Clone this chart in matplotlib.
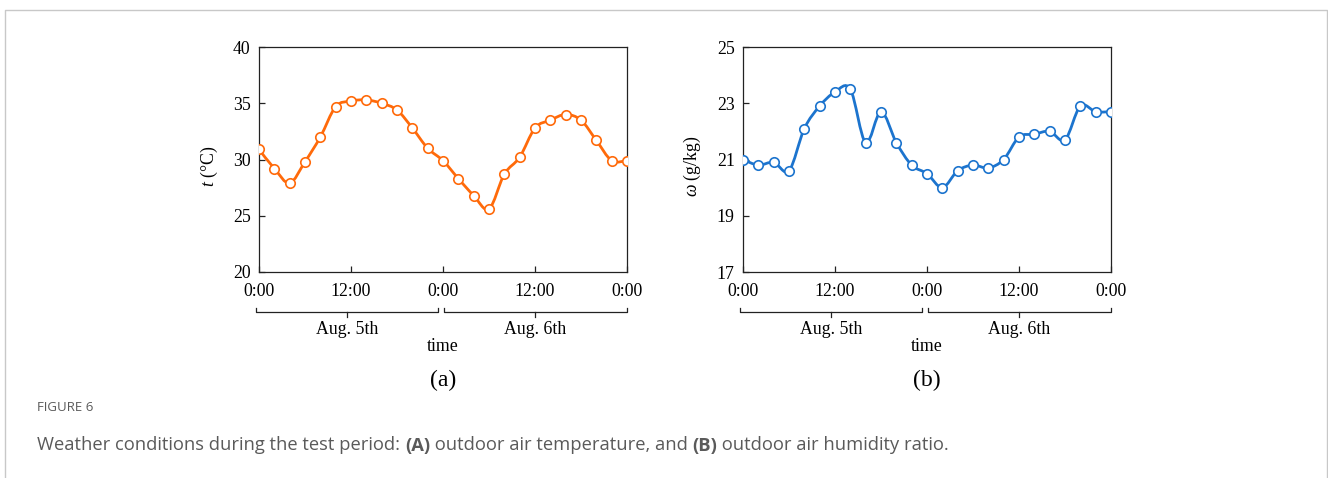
import numpy as np
import matplotlib
matplotlib.use("Agg")
import matplotlib.pyplot as plt
from matplotlib.path import Path
from matplotlib.patches import PathPatch
from matplotlib.lines import Line2D
import matplotlib.transforms as mtransforms

# ---------------- data ----------------
hours = list(range(0, 49, 2))  # every 2 h over Aug. 5th - Aug. 6th
temperature = [30.9, 29.2, 27.9, 29.8, 32.0, 34.7, 35.2, 35.3, 35.0, 34.4, 32.8, 31.0,
               29.9, 28.3, 26.8, 25.6, 28.7, 30.2, 32.8, 33.5, 34.0, 33.5, 31.7, 29.9, 29.9]
humidity = [21.0, 20.8, 20.9, 20.6, 22.1, 22.9, 23.4, 23.5, 21.6, 22.7, 21.6, 20.8,
            20.5, 20.0, 20.6, 20.8, 20.7, 21.0, 21.8, 21.9, 22.0, 21.7, 22.9, 22.7, 22.7]
xtick_pos = [0, 12, 24, 36, 48]
xtick_labels = ["0:00", "12:00", "0:00", "12:00", "0:00"]
day_labels = ["Aug. 5th", "Aug. 6th"]
temp_ticks = [20, 25, 30, 35, 40]
hum_ticks = [17, 19, 21, 23, 25]

ORANGE = "#FF6A0A"
BLUE = "#1C74CE"
FS = 12.8

plt.rcParams["font.family"] = ["Liberation Serif", "DejaVu Serif"]
plt.rcParams["mathtext.fontset"] = "custom"
plt.rcParams["mathtext.rm"] = "Liberation Serif"
plt.rcParams["mathtext.it"] = "Liberation Serif:italic"

W, H = 1328, 478
fig = plt.figure(figsize=(W / 100, H / 100), dpi=100)


def smooth_path(x, y):
    """Catmull-Rom style smoothed line as cubic Bezier segments (like Excel smoothing)."""
    x = np.asarray(x, float)
    y = np.asarray(y, float)
    n = len(x)
    verts = [(x[0], y[0])]
    codes = [Path.MOVETO]
    for i in range(n - 1):
        i0 = max(i - 1, 0)
        i3 = min(i + 2, n - 1)
        c1 = (x[i] + (x[i + 1] - x[i0]) / 6, y[i] + (y[i + 1] - y[i0]) / 6)
        c2 = (x[i + 1] - (x[i3] - x[i]) / 6, y[i + 1] - (y[i3] - y[i]) / 6)
        verts += [c1, c2, (x[i + 1], y[i + 1])]
        codes += [Path.CURVE4] * 3
    return Path(verts, codes)


def make_panel(left_px, values, color, yticks, ylabel, label_x, panel_label):
    ax = fig.add_axes([left_px / W, 1 - 272 / H, 368 / W, 225 / H])
    patch = PathPatch(smooth_path(hours, values), fill=False, edgecolor=color,
                      lw=2.0, transform=ax.transData, zorder=2)
    ax.add_patch(patch)
    ax.plot(hours, values, linestyle="none", marker="o", markersize=6.8,
            markerfacecolor="white", markeredgecolor=color, markeredgewidth=1.2, zorder=3)
    ax.set_xlim(0, 48)
    ax.set_ylim(yticks[0], yticks[-1])
    ax.set_xticks(xtick_pos)
    ax.set_xticklabels(xtick_labels)
    ax.set_yticks(yticks)
    ax.tick_params(direction="in", length=4, width=0.9, labelsize=FS, color="#222222")
    ax.tick_params(axis="x", pad=8)
    ax.tick_params(axis="y", pad=6)
    for s in ax.spines.values():
        s.set_linewidth(0.9)
        s.set_color("#222222")
    ax.set_ylabel(ylabel, fontsize=FS)
    ax.yaxis.set_label_coords(label_x, 0.47)

    # brackets below the axis
    tr = mtransforms.blended_transform_factory(ax.transData, fig.transFigure)
    yb = 1 - 311.5 / H
    yu = 1 - 307.5 / H
    yd = 1 - 316.5 / H
    for (a, b, c) in [(-0.4, 23.3, 11.5), (24.1, 48.0, 36.0)]:
        fig.add_artist(Line2D([a, a, b, b], [yu, yb, yb, yu], transform=tr,
                              color="#222222", lw=0.9))
        fig.add_artist(Line2D([c, c], [yb, yd], transform=tr, color="#222222", lw=0.9))
    for c, lab in zip([11.5, 36.0], day_labels):
        fig.text(c, 1 - 330 / H, lab, transform=tr, ha="center", va="center", fontsize=FS)
    fig.text(24, 1 - 346.5 / H, "time", transform=tr, ha="center", va="center", fontsize=FS)
    fig.text(24, 1 - 380 / H, panel_label, transform=tr, ha="center", va="center", fontsize=17)
    return ax


make_panel(259, temperature, ORANGE, temp_ticks, r"$t$ (°C)", -0.105, "(a)")
make_panel(743, humidity, BLUE, hum_ticks, r"$\omega$ (g/kg)", -0.108, "(b)")

# frame border
fig.add_artist(Line2D([4.5 / W, 4.5 / W, 1326.5 / W, 1326.5 / W],
                      [-0.01, 1 - 9.5 / H, 1 - 9.5 / H, -0.01],
                      transform=fig.transFigure, color="#c8c8c8", lw=1.0))

# caption
fig.text(37 / W, 1 - 407.5 / H, "FIGURE 6", fontsize=9.5, color="#5a5a5a",
         family=["Open Sans", "DejaVu Sans"], va="center", ha="left")
cap_parts = [("Weather conditions during the test period: ", "normal"), ("(A)", "bold"),
             (" outdoor air temperature, and ", "normal"), ("(B)", "bold"),
             (" outdoor air humidity ratio.", "normal")]
fig.canvas.draw()
renderer = fig.canvas.get_renderer()
xpos = 37
for txt, wt in cap_parts:
    t = fig.text(xpos / W, 1 - 445.5 / H, txt, fontsize=13.2, color="#5a5a5a", weight=wt,
                 family=["Open Sans", "DejaVu Sans"], va="center", ha="left")
    bb = t.get_window_extent(renderer=renderer)
    xpos += bb.width

fig.savefig("out.png", dpi=100)
